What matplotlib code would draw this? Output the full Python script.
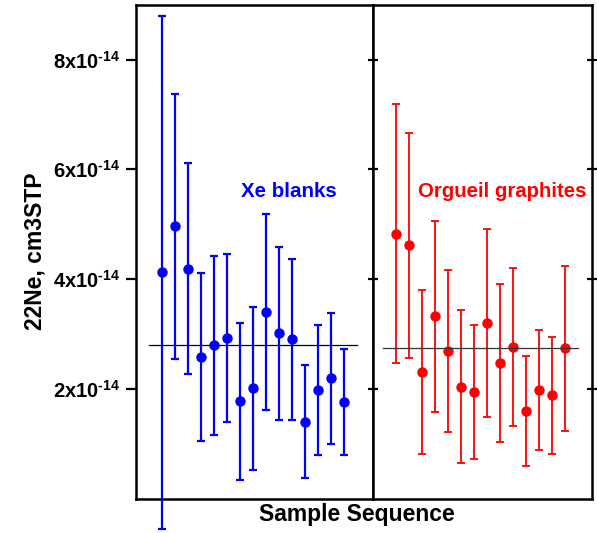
import numpy as np
import matplotlib
matplotlib.use("Agg")
import matplotlib.pyplot as plt

plt.rcParams['font.family'] = ['Liberation Sans', 'DejaVu Sans']
plt.rcParams['font.weight'] = 'bold'
plt.rcParams['mathtext.fontset'] = 'custom'
plt.rcParams['mathtext.rm'] = 'Liberation Sans:bold'
plt.rcParams['mathtext.bf'] = 'Liberation Sans:bold'

# Data (units of 1e-14 cm3STP)
scale = 1e-14

xe_vals = [4.12, 4.96, 4.19, 2.58, 2.79, 2.93, 1.77, 2.01, 3.40, 3.01, 2.90, 1.40, 1.98, 2.19, 1.76]
xe_err = [4.67, 2.41, 1.92, 1.53, 1.63, 1.53, 1.43, 1.48, 1.79, 1.58, 1.47, 1.03, 1.18, 1.20, 0.97]
xe_mean = 2.80

org_vals = [4.83, 4.62, 2.31, 3.32, 2.69, 2.04, 1.94, 3.20, 2.47, 2.77, 1.59, 1.98, 1.88, 2.74]
org_err = [2.36, 2.05, 1.50, 1.74, 1.48, 1.39, 1.22, 1.71, 1.44, 1.44, 1.00, 1.10, 1.07, 1.50]
org_mean = 2.74

ytick_vals = [2, 4, 6, 8]
ytick_labels = ['$\\mathbf{%dx10^{\u201014}}$' % v for v in ytick_vals]

blue = '#0000ff'
red = '#ff0000'

fig = plt.figure(figsize=(5.97, 5.33), dpi=100)
ax1 = fig.add_axes([0.2273, 0.0645, 0.397, 0.9268])
ax2 = fig.add_axes([0.6248, 0.0645, 0.3673, 0.9268])

# Xe blanks
x1 = np.arange(1, len(xe_vals) + 1)
ax1.errorbar(x1, np.array(xe_vals) * scale, yerr=np.array(xe_err) * scale,
             fmt='o', color=blue, ms=6.5, elinewidth=1.6, capsize=2.6,
             capthick=1.6, clip_on=False, zorder=3)
ax1.plot([0, len(xe_vals) + 1], [xe_mean * scale] * 2, color='black', lw=0.9, zorder=2)
ax1.text(10.8, 5.6 * scale, 'Xe blanks', color=blue, fontsize=14.8,
         fontweight='bold', ha='center', va='center')

# Orgueil graphites
x2 = np.arange(1, len(org_vals) + 1)
ax2.errorbar(x2, np.array(org_vals) * scale, yerr=np.array(org_err) * scale,
             fmt='o', color=red, ms=6.5, elinewidth=1.3, capsize=2.6,
             capthick=1.3, clip_on=False, zorder=3)
ax2.plot([0, len(org_vals) + 1], [org_mean * scale] * 2, color='#333333', lw=0.9, zorder=4)
ax2.text(9.2, 5.6 * scale, 'Orgueil graphites', color=red, fontsize=14.7,
         fontweight='bold', ha='center', va='center')

ax1.set_xlim(-1.0, 17.2)
ax2.set_xlim(-0.77, 16.1)
for ax in (ax1, ax2):
    ax.set_ylim(0, 9.0 * scale)
    ax.set_xticks([])
    ax.set_yticks(np.array(ytick_vals) * scale)
    for s in ax.spines.values():
        s.set_linewidth(1.8)

ax1.set_yticklabels(ytick_labels, fontsize=14.5)
ax1.tick_params(axis='y', direction='out', length=7, width=1.6, pad=4)

ax2.tick_params(axis='y', left=True, right=True, labelleft=False,
                direction='inout', length=7, width=1.6)

ax1.set_ylabel('22Ne, cm3STP', fontsize=16.5, fontweight='bold', labelpad=5)
fig.text(0.597, 0.034, 'Sample Sequence', fontsize=16.5, fontweight='bold',
         ha='center', va='center')

fig.savefig('out.png', dpi=100)
